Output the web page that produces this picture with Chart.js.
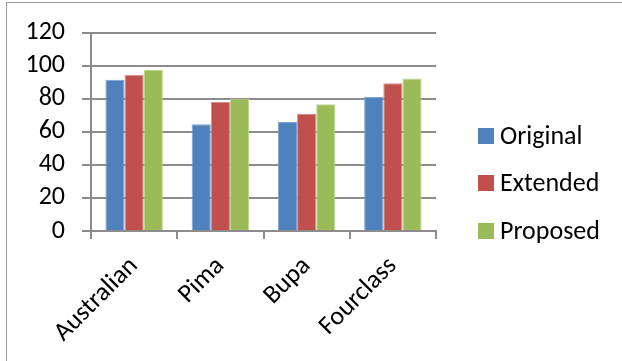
<!DOCTYPE html>
<html>
<head>
<meta charset="utf-8">
<script src="https://cdn.jsdelivr.net/npm/chart.js@4"></script>
<style>
  html, body { margin: 0; padding: 0; background: #fff; }
  #wrap { position: relative; width: 622px; height: 361px; overflow: hidden; }
  #frame { position: absolute; left: 6px; top: 2px; width: 700px; height: 400px;
           border: 1px solid #9a9a9a; box-sizing: border-box; }
  canvas { position: absolute; left: 0; top: 0; }
</style>
</head>
<body>
<div id="wrap">
  <div id="frame"></div>
  <canvas id="c" width="622" height="361"></canvas>
</div>
<script>
const categories = ['Australian', 'Pima', 'Bupa', 'Fourclass'];
const seriesNames = ['Original', 'Extended', 'Proposed'];
const original = [91.5, 64.5, 66, 81];
const extended = [94.5, 78, 70.7, 89.3];
const proposed = [97.5, 80, 76.6, 92.3];
const yTicks = [0, 20, 40, 60, 80, 100, 120];

const colors = ['#4F81BD', '#C0504D', '#9BBB59'];
const edges = ['#7fa3d3', '#d68a88', '#bcd48f'];
const FONT = 'Calibri, Carlito, "Liberation Sans", Arial, sans-serif';

// Legend drawn to the right of the plot, stacked vertically
const sideLegend = {
  id: 'sideLegend',
  afterDraw(chart) {
    const ctx = chart.ctx;
    const x = 478, ys = [136, 183, 231];
    ctx.save();
    ctx.font = '26px ' + FONT;
    ctx.textBaseline = 'middle';
    chart.data.datasets.forEach((ds, i) => {
      ctx.fillStyle = ds.backgroundColor;
      ctx.fillRect(x, ys[i] - 8, 16, 16);
      ctx.fillStyle = '#000';
      ctx.fillText(ds.label, x + 22, ys[i] + 1);
    });
    ctx.restore();
  }
};

new Chart(document.getElementById('c'), {
  type: 'bar',
  data: {
    labels: categories,
    datasets: [original, extended, proposed].map((vals, i) => ({
      label: seriesNames[i],
      data: vals,
      backgroundColor: colors[i],
      borderColor: edges[i],
      borderWidth: 1,
      categoryPercentage: 0.666,
      barPercentage: 1.0
    }))
  },
  options: {
    responsive: false,
    animation: false,
    layout: { padding: { left: 0, right: 186, top: 20, bottom: 0 } },
    plugins: { legend: { display: false }, tooltip: { enabled: false } },
    scales: {
      x: {
        grid: {
          offset: true,
          drawOnChartArea: false,
          drawTicks: true,
          tickLength: 8,
          color: '#8c8c8c',
          lineWidth: 2
        },
        border: { color: '#8c8c8c', width: 2 },
        ticks: {
          color: '#000',
          font: { family: FONT, size: 26 },
          minRotation: 45,
          maxRotation: 45,
          autoSkip: false,
          padding: 12
        },
        afterFit(scale) { scale.height = 130; }
      },
      y: {
        min: 0,
        max: 120,
        afterBuildTicks(scale) { scale.ticks = yTicks.map(v => ({ value: v })); },
        grid: { color: '#8c8c8c', lineWidth: 2, tickLength: 9 },
        border: { color: '#8c8c8c', width: 2 },
        ticks: {
          color: '#000',
          font: { family: FONT, size: 26 },
          autoSkip: false,
          padding: 17
        },
        afterFit(scale) { scale.width = 91; }
      }
    }
  },
  plugins: [sideLegend]
});
</script>
</body>
</html>
